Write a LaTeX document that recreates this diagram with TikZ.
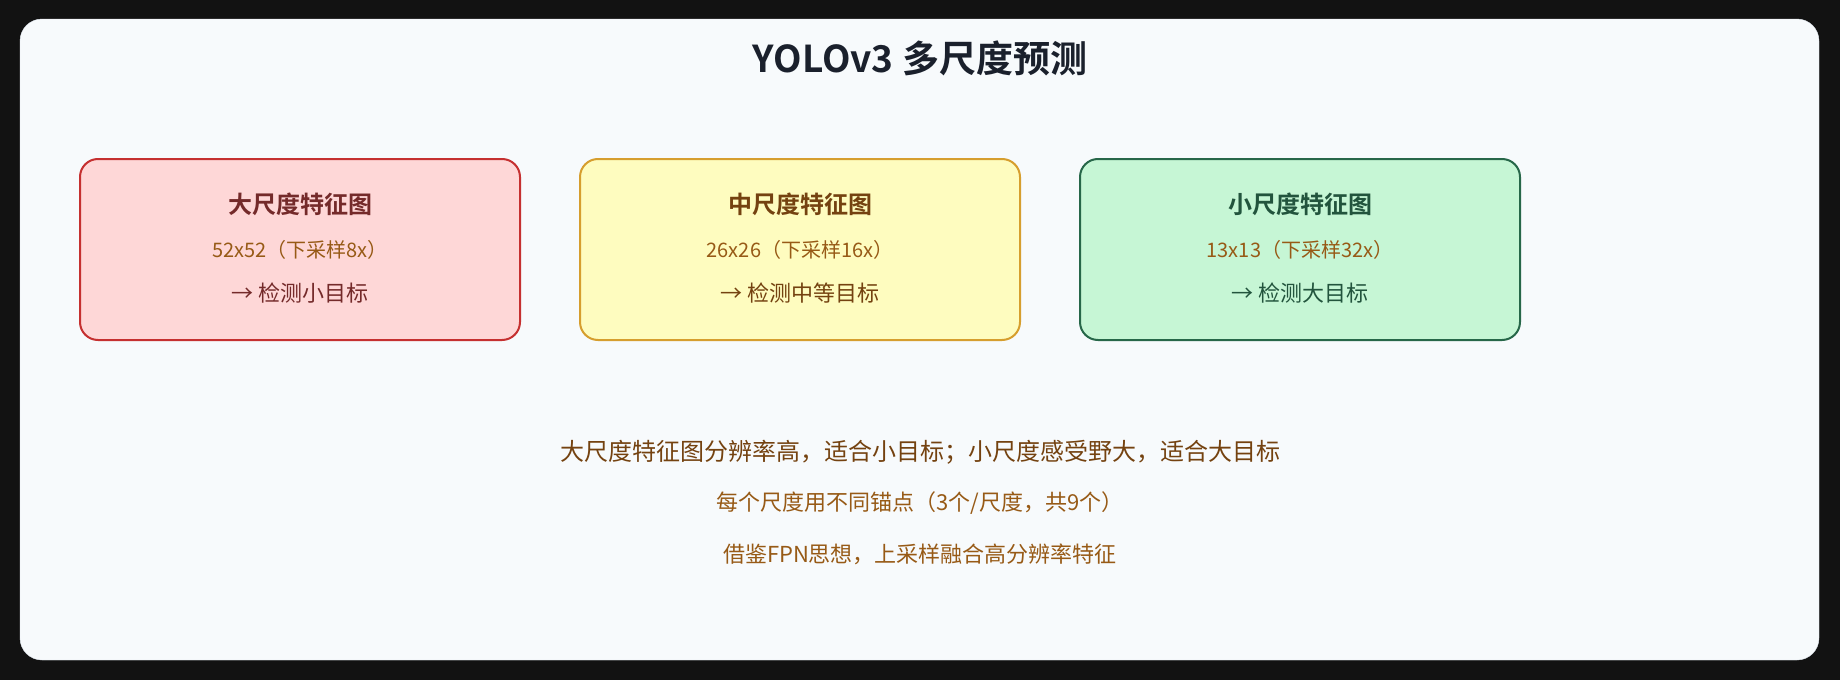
\documentclass[tikz,border=0pt]{standalone}
\usepackage{fontspec}
\setmainfont{Noto Sans CJK SC}[BoldFont={Noto Sans CJK SC Bold}]
\usepackage{tikz}
\usetikzlibrary{positioning}
\definecolor{pageBg}{HTML}{121212}
\definecolor{panelBg}{HTML}{F7FAFC}
\definecolor{panelLine}{HTML}{E2E8F0}
\definecolor{titleInk}{HTML}{1A202C}
\definecolor{largeFill}{HTML}{FED7D7}
\definecolor{largeLine}{HTML}{C53030}
\definecolor{largeInk}{HTML}{742A2A}
\definecolor{midFill}{HTML}{FEFCBF}
\definecolor{midLine}{HTML}{D69E2E}
\definecolor{midInk}{HTML}{744210}
\definecolor{smallFill}{HTML}{C6F6D5}
\definecolor{smallLine}{HTML}{276749}
\definecolor{smallInk}{HTML}{22543D}
\definecolor{sizeInk}{HTML}{975A16}
\definecolor{noteInk}{HTML}{744210}
\tikzset{MSstyle/.style={
    x=1pt, y=-1pt,% one unit is one pixel of the reference
    on grid,% place nodes centre to centre
    every node/.style={inner sep=0pt},
    fmap/.style={% the three feature map boxes
      rounded corners=18pt,
      line width=2pt,
      minimum width=440pt,
      minimum height=181pt
    },
    fmtitle/.style={font=\fontsize{24}{28}\selectfont\bfseries},
    fmsize/.style={font=\fontsize{20}{24}\selectfont, text=sizeInk},
    fmtask/.style={font=\fontsize{22}{26}\selectfont},
    note/.style={font=\fontsize{22}{26}\selectfont, text=sizeInk}
  }
}
\begin{document}
\begin{tikzpicture}[MSstyle]
  \fill[pageBg] (0,0) rectangle (1840,680);
  \draw[panelLine, fill=panelBg, rounded corners=22pt] (20,19) rectangle (1819,660);
  \node[font=\fontsize{37}{43}\selectfont\bfseries, text=titleInk] (title) at (920,58) {YOLOv3 多尺度预测};
  % feature maps
  \node[fmap, fill=largeFill, draw=largeLine] (large) at (300,249.5) {};
  \node[fmap, fill=midFill, draw=midLine, right=500pt of large] (mid) {};
  \node[fmap, fill=smallFill, draw=smallLine, right=500pt of mid] (small) {};
  \node[fmtitle, text=largeInk, above=45pt of large] (largeT) {大尺度特征图};
  \node[fmsize] (largeS) at (large) {52x52（下采样8x）};
  \node[fmtask, text=largeInk, below=44pt of large] (largeD) {→ 检测小目标};
  \node[fmtitle, text=midInk, above=45pt of mid] (midT) {中尺度特征图};
  \node[fmsize] (midS) at (mid) {26x26（下采样16x）};
  \node[fmtask, text=midInk, below=44pt of mid] (midD) {→ 检测中等目标};
  \node[fmtitle, text=smallInk, above=45pt of small] (smallT) {小尺度特征图};
  \node[fmsize] (smallS) at (small) {13x13（下采样32x）};
  \node[fmtask, text=smallInk, below=44pt of small] (smallD) {→ 检测大目标};
  % notes
  \node[font=\fontsize{24}{28}\selectfont, text=noteInk] (note1) at (920,452) {大尺度特征图分辨率高，适合小目标；小尺度感受野大，适合大目标};
  \node[note, below=51pt of note1] (note2) {每个尺度用不同锚点（3个/尺度，共9个）};
  \node[note, below=51pt of note2] (note3) {借鉴FPN思想，上采样融合高分辨率特征};
\end{tikzpicture}
\end{document}
